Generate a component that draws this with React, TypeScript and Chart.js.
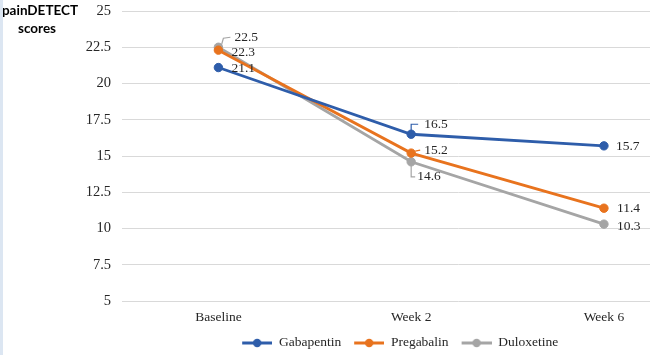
import React, { useEffect, useRef } from "react";
import { Chart, registerables } from "chart.js";

Chart.register(...registerables);

const categories = ["Baseline", "Week 2", "Week 6"];
const seriesNames = ["Gabapentin", "Pregabalin", "Duloxetine"];
const gabapentin = [21.1, 16.5, 15.7];
const pregabalin = [22.3, 15.2, 11.4];
const duloxetine = [22.5, 14.6, 10.3];
const yTicks = [5, 7.5, 10, 12.5, 15, 17.5, 20, 22.5, 25];
const titleLines = ["painDETECT", "scores"];

const colors = ["#2E5DAA", "#E8731E", "#A5A5A5"];

// label placement: [dx, dy, leader polyline (relative points) or null]
type Place = [number, number, number[][] | null];
const labelPlaces: Place[][] = [
  [
    [13, 1, null],
    [13, -10, [[0, -3], [0, -10], [7, -10]]],
    [12, 1, null],
  ],
  [
    [13, 2, null],
    [13, -3, [[4, -2], [9, -3]]],
    [13, 0, null],
  ],
  [
    [16, -10, [[3, -2], [5, -9], [12, -10]]],
    [6, 15, [[0, 4], [0, 15], [4, 15]]],
    [13, 2, null],
  ],
];

function legendImage(color: string): HTMLCanvasElement {
  const c = document.createElement("canvas");
  c.width = 33;
  c.height = 10;
  const g = c.getContext("2d")!;
  g.strokeStyle = color;
  g.lineWidth = 3;
  g.beginPath();
  g.moveTo(3, 5);
  g.lineTo(33, 5);
  g.stroke();
  g.fillStyle = color;
  g.beginPath();
  g.arc(18, 5, 4.2, 0, Math.PI * 2);
  g.fill();
  return c;
}

export default function App() {
  const ref = useRef<HTMLCanvasElement | null>(null);

  useEffect(() => {
    if (!ref.current) return;
    const series = [gabapentin, pregabalin, duloxetine];
    const images = colors.map(legendImage);

    const labelPlugin = {
      id: "valueLabels",
      afterDatasetsDraw(chart: any) {
        const ctx = chart.ctx;
        const xs = chart.scales.x;
        const ys = chart.scales.y;
        ctx.save();
        ctx.font = "13.5px 'Liberation Serif', 'Times New Roman', serif";
        ctx.fillStyle = "#262626";
        ctx.textAlign = "left";
        ctx.textBaseline = "middle";
        series.forEach((vals, si) => {
          vals.forEach((v, i) => {
            const px = xs.getPixelForValue(i);
            const py = ys.getPixelForValue(v);
            const [dx, dy, leader] = labelPlaces[si][i];
            if (leader) {
              ctx.strokeStyle = colors[si];
              ctx.lineWidth = 1.2;
              ctx.beginPath();
              leader.forEach((p, k) => {
                if (k === 0) ctx.moveTo(px + p[0], py + p[1]);
                else ctx.lineTo(px + p[0], py + p[1]);
              });
              ctx.stroke();
            }
            ctx.fillText(v.toFixed(1), px + dx, py + dy);
          });
        });
        ctx.restore();
      },
    };

    const titlePlugin = {
      id: "cornerTitle",
      afterDraw(chart: any) {
        const ctx = chart.ctx;
        ctx.save();
        ctx.font = "bold 13.5px Lato, 'Open Sans', sans-serif";
        ctx.fillStyle = "#000000";
        ctx.textAlign = "center";
        ctx.textBaseline = "alphabetic";
        ctx.fillText(titleLines[0], 40, 15);
        ctx.fillText(titleLines[1], 37, 33);
        ctx.restore();
      },
    };

    const chart = new Chart(ref.current, {
      type: "line",
      data: {
        datasets: series.map((vals, si) => ({
          label: seriesNames[si],
          data: vals.map((v, i) => ({ x: i, y: v })),
          borderColor: colors[si],
          backgroundColor: colors[si],
          borderWidth: 2.8,
          pointRadius: 4.2,
          pointStyle: "circle",
          pointBackgroundColor: colors[si],
          pointBorderColor: colors[si],
          pointBorderWidth: 1,
          tension: 0,
        })),
      },
      options: {
        animation: false,
        responsive: false,
        maintainAspectRatio: false,
        layout: { padding: { top: 11, right: 2.5, bottom: 0, left: 0 } },
        plugins: {
          legend: {
            position: "bottom",
            maxHeight: 28.8,
            labels: {
              usePointStyle: true,
              pointStyleWidth: 33,
              boxHeight: 10,
              padding: 10,
              color: "#262626",
              font: { family: "'Liberation Serif', 'Times New Roman', serif", size: 13.5 },
              generateLabels: (chart: any) =>
                chart.data.datasets.map((ds: any, i: number) => ({
                  text: ds.label,
                  pointStyle: images[i],
                  fillStyle: colors[i],
                  strokeStyle: colors[i],
                  lineWidth: 0,
                  hidden: false,
                  datasetIndex: i,
                  fontColor: "#262626",
                })),
            },
          },
          tooltip: { enabled: false },
        },
        scales: {
          x: {
            type: "linear",
            min: -0.5,
            max: 2.99,
            grid: { display: false, drawTicks: false },
            border: { display: false },
            afterBuildTicks: (scale: any) => {
              scale.ticks = categories.map((_, i) => ({ value: i }));
            },
            afterFit: (scale: any) => {
              scale.paddingLeft = 0;
              scale.paddingRight = 0;
              scale.height = 25.2;
            },
            ticks: {
              padding: 8,
              color: "#262626",
              autoSkip: false,
              maxRotation: 0,
              font: { family: "'Liberation Serif', 'Times New Roman', serif", size: 13.5 },
              callback: (v: any) => categories[Math.round(Number(v))] ?? "",
            },
          },
          y: {
            min: 5,
            max: 25,
            afterBuildTicks: (scale: any) => {
              scale.ticks = yTicks.map((v) => ({ value: v }));
            },
            afterFit: (scale: any) => {
              scale.width = 122;
              scale.paddingTop = 0;
              scale.paddingBottom = 0;
            },
            grid: { color: "#D9D9D9", lineWidth: 1, drawTicks: false },
            border: { display: false },
            ticks: {
              padding: 11,
              color: "#262626",
              font: { family: "'Liberation Serif', 'Times New Roman', serif", size: 14.5 },
              callback: (v: any) => String(v),
            },
          },
        },
      },
      plugins: [labelPlugin, titlePlugin],
    } as any);

    return () => chart.destroy();
  }, []);

  return (
    <div
      style={{
        position: "fixed",
        left: 0,
        top: 0,
        width: 650,
        height: 355,
        overflow: "hidden",
        background: "#ffffff",
      }}
    >
      <canvas ref={ref} width={800} height={355} style={{ display: "block" }} />
      <div
        style={{
          position: "absolute",
          left: 0,
          top: 0,
          width: 3,
          height: 355,
          background: "#DCE6F2",
        }}
      />
    </div>
  );
}
